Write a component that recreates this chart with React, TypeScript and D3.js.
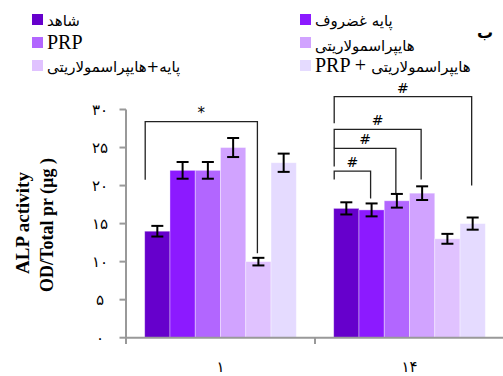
import React from 'react';
import * as d3 from 'd3';

const days = ['۱', '۱۴'];
const groups = ['شاهد', 'پایه غضروف', 'PRP', 'هایپراسمولاریتی', 'پایه+هایپراسمولاریتی', 'PRP + هایپراسمولاریتی'];
const colors = ['#6600cc', '#8c1aff', '#b266ff', '#d1a3ff', '#e0c2ff', '#e5dbff'];
const valuesDay1 = [14, 22, 22, 25, 10, 23];
const errorsDay1 = [0.7, 1.1, 1.1, 1.25, 0.5, 1.2];
const valuesDay14 = [17, 16.8, 18, 19, 13, 15];
const errorsDay14 = [0.8, 0.85, 0.9, 0.9, 0.65, 0.8];
const yTicks = [0, 5, 10, 15, 20, 25, 30];

// significance brackets: day, from bar, to bar, top, left end, right end, label
const brackets = [
  { day: '۱', from: 0, to: 4, top: 28.4, left: 20.75, right: 11.1, label: '*' },
  { day: '۱۴', from: 0, to: 5, top: 31.7, left: 28.2, right: 20, label: '#' },
  { day: '۱۴', from: 0, to: 3, top: 27.4, left: 24.9, right: 20.8, label: '#' },
  { day: '۱۴', from: 0, to: 2, top: 24.9, left: 22.5, right: 19, label: '#' },
  { day: '۱۴', from: 0, to: 1, top: 21.9, left: 20.8, right: 18.3, label: '#' },
];

const toFa = (n: number) => String(n).replace(/\d/g, d => '۰۱۲۳۴۵۶۷۸۹'[+d]);

const W = 503;
const H = 376;
const faFont = "'DejaVu Sans', sans-serif";
const serif = "'Liberation Serif', serif";

export default function App() {
  const x = d3.scaleBand<string>().domain(days).range([126, 504]).padding(0);
  const xs = d3.scaleBand<string>().domain(groups).range([0, x.bandwidth()]).paddingInner(0).paddingOuter(0.74);
  const y = d3.scaleLinear().domain([0, 30]).range([337.7, 109.5]);

  const series = [
    { day: '۱', vals: valuesDay1, errs: errorsDay1 },
    { day: '۱۴', vals: valuesDay14, errs: errorsDay14 },
  ];

  const legendLeft = [0, 2, 4];
  const legendRight = [1, 3, 5];

  return (
    <svg width={W} height={H} style={{ position: 'absolute', left: 0, top: 0 }}>
      <rect width={W} height={H} fill="#fff" />

      {/* legend */}
      {legendLeft.map((gi, r) => (
        <g key={'l' + gi}>
          <rect x={32} y={14 + r * 23} width={11} height={11} fill={colors[gi]} />
          <text x={47} y={26 + r * 23} fontSize={groups[gi] === 'PRP' ? 20 : 15}
            fontFamily={groups[gi] === 'PRP' ? serif : faFont}>{groups[gi]}</text>
        </g>
      ))}
      {legendRight.map((gi, r) => (
        <g key={'r' + gi}>
          <rect x={300} y={14 + r * 23} width={11} height={11} fill={colors[gi]} />
          {gi === 5 ? (
            <text x={315} y={26 + r * 23} fontSize={15} fontFamily={faFont}>
              <tspan fontFamily={serif} fontSize={20}>PRP + </tspan>
              <tspan>هایپراسمولاریتی</tspan>
            </text>
          ) : (
            <text x={315} y={(r === 1 ? 28 : 26) + r * 23} fontSize={15} fontFamily={faFont}>{groups[gi]}</text>
          )}
        </g>
      ))}
      <g transform="translate(485,38)">
        <text x={0} y={0} fontSize={16} fontWeight="bold" fontFamily={faFont} textAnchor="middle">ب</text>
      </g>

      {/* y axis title */}
      <g transform="translate(29,223) rotate(-90)">
        <text textAnchor="middle" fontSize={19} fontWeight="bold" fontFamily={serif}>ALP activity</text>
      </g>
      <g transform="translate(53,225) rotate(-90)">
        <text textAnchor="middle" fontSize={18} fontWeight="bold" fontFamily={serif}>OD/Total pr (µg )</text>
      </g>

      {/* bars */}
      {series.map(s => (
        <g key={s.day} transform={`translate(${x(s.day)},0)`}>
          {s.vals.map((v, i) => (
            <rect key={i} x={xs(groups[i])} y={y(v)} width={xs.bandwidth()} height={y(0) - y(v)}
              fill={colors[i]} stroke="#fff" strokeOpacity={0.45} strokeWidth={0.8} />
          ))}
          {s.vals.map((v, i) => {
            const cx = (xs(groups[i]) as number) + xs.bandwidth() / 2;
            const e = s.errs[i];
            return (
              <g key={'e' + i} stroke="#000" strokeWidth={2}>
                <line x1={cx} x2={cx} y1={y(v + e)} y2={y(v - e)} />
                <line x1={cx - 6} x2={cx + 6} y1={y(v + e)} y2={y(v + e)} />
                <line x1={cx - 6} x2={cx + 6} y1={y(v - e)} y2={y(v - e)} />
              </g>
            );
          })}
        </g>
      ))}

      {/* brackets */}
      {brackets.map((b, k) => {
        const x0 = (x(b.day) as number) + (xs(groups[b.from]) as number) + 0.5;
        const x1 = (x(b.day) as number) + (xs(groups[b.to]) as number) + xs.bandwidth() / 2 - 1;
        return (
          <g key={'b' + k}>
            <path d={`M${x0},${y(b.left)}V${y(b.top)}H${x1}V${y(b.right)}`} fill="none" stroke="#222" strokeWidth={1.3} />
            <text x={(x0 + x1) / 2} y={y(b.top) - 4} textAnchor="middle" fontSize={b.label === '*' ? 15 : 14}
              fontFamily="'DejaVu Sans', sans-serif">{b.label}</text>
          </g>
        );
      })}

      {/* axes */}
      <g stroke="#999" strokeWidth={2}>
        <line x1={126} x2={126} y1={y(30)} y2={344} />
        <line x1={126} x2={W} y1={y(0)} y2={y(0)} />
        {yTicks.map(t => (
          <line key={t} x1={119.5} x2={126} y1={y(t)} y2={y(t)} />
        ))}
        {[126, x('۱۴') as number].map((t, i) => (
          <line key={'xt' + i} x1={t} x2={t} y1={y(0)} y2={344} />
        ))}
      </g>
      {yTicks.map(t => (
        <text key={'yl' + t} x={100} y={y(t) + 5} textAnchor="middle" fontSize={15} fontFamily={faFont}>{toFa(t)}</text>
      ))}
      {days.map(d => (
        <text key={'xl' + d} x={(x(d) as number) + x.bandwidth() / 2} y={372} textAnchor="middle" fontSize={15}
          fontFamily={faFont}>{d}</text>
      ))}
    </svg>
  );
}
